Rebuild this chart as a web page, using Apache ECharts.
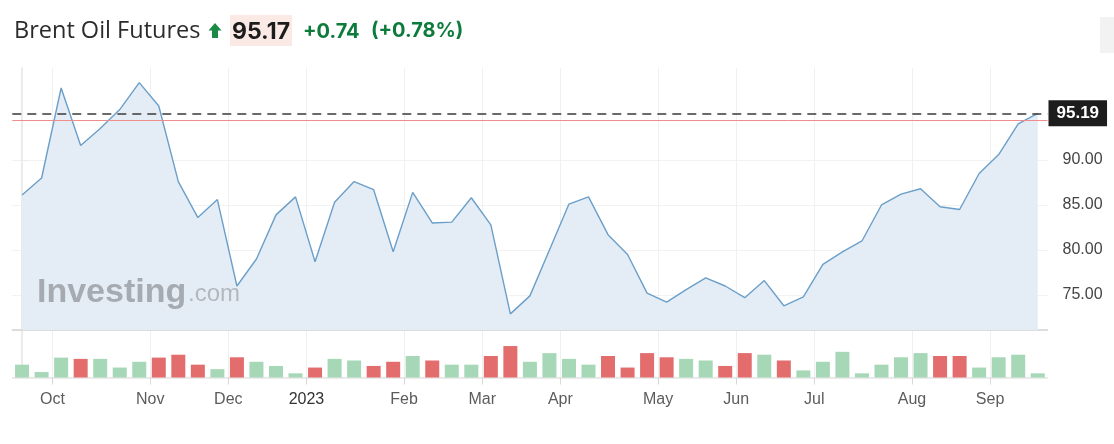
<!DOCTYPE html>
<html>
<head>
<meta charset="utf-8">
<script src="https://cdn.jsdelivr.net/npm/echarts@6/dist/echarts.min.js"></script>
<style>
html,body{margin:0;padding:0;background:#fff;}
#chart{width:1114px;height:444px;}
</style>
</head>
<body>
<div id="chart"></div>
<script>
// ---------------- DATA ----------------
// weekly bars (week starting Sunday)
const weeks = [
  '2022-09-18','2022-09-25','2022-10-02','2022-10-09','2022-10-16','2022-10-23','2022-10-30',
  '2022-11-06','2022-11-13','2022-11-20','2022-11-27','2022-12-04','2022-12-11','2022-12-18',
  '2022-12-25','2023-01-01','2023-01-08','2023-01-15','2023-01-22','2023-01-29','2023-02-05',
  '2023-02-12','2023-02-19','2023-02-26','2023-03-05','2023-03-12','2023-03-19','2023-03-26',
  '2023-04-02','2023-04-09','2023-04-16','2023-04-23','2023-04-30','2023-05-07','2023-05-14',
  '2023-05-21','2023-05-28','2023-06-04','2023-06-11','2023-06-18','2023-06-25','2023-07-02',
  '2023-07-09','2023-07-16','2023-07-23','2023-07-30','2023-08-06','2023-08-13','2023-08-20',
  '2023-08-27','2023-09-03','2023-09-10','2023-09-17'
];
const closes = [
  86.1, 88.0, 98.0, 91.6, 93.5, 95.6, 98.6,
  96.0, 87.6, 83.6, 85.6, 76.0, 79.0, 83.9,
  85.9, 78.7, 85.3, 87.6, 86.7, 79.8, 86.4,
  83.0, 83.1, 85.8, 82.8, 72.9, 74.9, 80.0,
  85.1, 85.9, 81.7, 79.5, 75.2, 74.2, 75.6,
  76.9, 76.0, 74.7, 76.6, 73.8, 74.8, 78.4,
  79.8, 81.0, 85.0, 86.2, 86.8, 84.8, 84.5,
  88.5, 90.6, 94.0, 95.19
];
const volumes = [
  40, 17, 62, 58, 58, 31, 49,
  62, 71, 40, 26, 63, 49, 36,
  13, 31, 58, 53, 36, 49, 67,
  53, 40, 40, 67, 98, 49, 76,
  58, 40, 67, 31, 76, 63, 58,
  53, 36, 76, 71, 53, 22, 49,
  80, 13, 40, 63, 76, 67, 67,
  31, 63, 71, 13
];
const monthLabels = ['Oct','Nov','Dec','2023','Feb','Mar','Apr','May','Jun','Jul','Aug','Sep'];
const priceTicks = [75, 80, 85, 90];
const instrument = 'Brent Oil Futures';
const lastPrice = 95.17;
const change = 0.74;
const changePct = 0.78;
const lastClose = 95.19;

// ---------------- DERIVED ----------------
const TICK_SHIFT = -0.44;
const monthIdx = [];
for (let i = 1; i < weeks.length; i++) {
  if (weeks[i].slice(5, 7) !== weeks[i - 1].slice(5, 7)) monthIdx.push(i);
}
const tickVals = monthIdx.map(i => i + TICK_SHIFT);
const labelFor = v => {
  const k = tickVals.findIndex(t => Math.abs(t - v) < 1e-6);
  if (k < 0) return '';
  const s = monthLabels[k];
  return /^\d{4}$/.test(s) ? '{y|' + s + '}' : s;
};
const prevClose = +(lastPrice - change).toFixed(2);
const priceData = closes.map((c, i) => [i, c]);
const up = closes.map((c, i) => i === 0 ? true : c >= closes[i - 1]);
const volData = volumes.map((v, i) => [i, v]);

const GREEN = '#a6d7b6', RED = '#e36d6d';
const AX_FONT = '"Liberation Sans", Arial, sans-serif';
const chart = echarts.init(document.getElementById('chart'), null, {renderer: 'canvas'});

const option = {
  animation: false,
  backgroundColor: '#fff',
  textStyle: {fontFamily: AX_FONT},
  grid: [
    {left: 12.3, right: 66.5, top: 68, height: 262},
    {left: 12.3, right: 66.5, top: 330, height: 47.5}
  ],
  xAxis: [
    {
      type: 'value', gridIndex: 0, min: -0.5, max: 52.5,
      axisLine: {show: true, onZero: false, lineStyle: {color: '#d2d2d2', width: 1.5}},
      axisTick: {show: false, customValues: tickVals},
      axisLabel: {show: false, customValues: tickVals},
      splitLine: {show: true, lineStyle: {color: '#f0f0f0', width: 1}}
    },
    {
      type: 'value', gridIndex: 1, min: -0.5, max: 52.5,
      axisLine: {show: true, onZero: false, lineStyle: {color: '#e4e4e4', width: 1.5}},
      axisTick: {show: true, length: 7, customValues: tickVals, lineStyle: {color: '#d8d8d8'}},
      axisLabel: {
        show: true, customValues: tickVals, formatter: labelFor,
        color: '#5c5c5c', fontSize: 16, margin: 14, fontFamily: AX_FONT,
        rich: {y: {color: '#333', fontSize: 16, fontFamily: AX_FONT}}
      },
      splitLine: {show: true, lineStyle: {color: '#f0f0f0', width: 1}}
    }
  ],
  yAxis: [
    {
      type: 'value', gridIndex: 0, position: 'right', min: 71.11, max: 100.22,
      axisLine: {show: true, lineStyle: {color: '#e4e4e4', width: 1.5}},
      axisTick: {show: true, length: 7, customValues: priceTicks, lineStyle: {color: '#ececec'}},
      axisLabel: {
        show: true, customValues: priceTicks, formatter: v => v.toFixed(2),
        color: '#444', fontSize: 16, margin: 15, fontFamily: AX_FONT
      },
      splitLine: {show: true, lineStyle: {color: '#f2f2f2', width: 1}}
    },
    {
      type: 'value', gridIndex: 1, position: 'right', min: 0, max: 148,
      axisLine: {show: true, lineStyle: {color: '#e4e4e4', width: 1.5}},
      axisTick: {show: false}, axisLabel: {show: false}, splitLine: {show: false}
    }
  ],
  series: [
    {
      type: 'line', xAxisIndex: 0, yAxisIndex: 0, data: priceData,
      symbol: 'none', smooth: false,
      lineStyle: {color: '#6b9fc9', width: 1.4},
      areaStyle: {color: '#e4edf5', opacity: 1, origin: 'start'},
      z: 3,
      markLine: {
        silent: true, symbol: 'none', animation: false,
        data: [
          {
            yAxis: prevClose,
            lineStyle: {color: '#ef8c8c', width: 1, type: 'solid'},
            label: {show: false}
          },
          {
            yAxis: lastClose,
            lineStyle: {color: '#3a3a3a', width: 1.5, type: [9, 6]},
            label: {
              show: true, position: 'end', distance: 1,
              formatter: lastClose.toFixed(2),
              backgroundColor: '#1d1d1d', color: '#fff',
              fontSize: 17, fontWeight: 'bold', lineHeight: 17,
              padding: [5, 8, 4, 8], fontFamily: AX_FONT
            }
          }
        ]
      }
    },
    {
      type: 'bar', xAxisIndex: 1, yAxisIndex: 1, data: volData,
      barWidth: 14,
      itemStyle: {color: p => up[p.dataIndex] ? GREEN : RED},
      z: 2
    }
  ],
  graphic: [
    // watermark logo (above area fill)
    {type: 'text', left: 37, top: 276, z: 5, silent: true,
     style: {text: 'Investing', fill: '#a6abb1', font: 'bold 34px "Liberation Sans", Arial, sans-serif'}},
    {type: 'text', left: 188, top: 282, z: 5, silent: true,
     style: {text: '.com', fill: '#b3b8bd', font: '24px "Liberation Sans", Arial, sans-serif'}},
    // header
    {type: 'text', left: 14, top: 19, z: 10,
     style: {text: instrument, fill: '#2b2b2b', font: '23.5px "Open Sans", "Noto Sans", sans-serif'}},
    {type: 'polygon', z: 10,
     shape: {points: [[215, 23], [221.5, 30.5], [218, 30.5], [218, 38], [212, 38], [212, 30.5], [208.5, 30.5]]},
     style: {fill: '#1b8a45'}},
    {type: 'rect', z: 9, shape: {x: 230, y: 15, width: 62, height: 31}, style: {fill: '#fbe9e6'}},
    {type: 'text', left: 232, top: 21, z: 10,
     style: {text: lastPrice.toFixed(2), fill: '#1c1c1c', font: 'bold 23px Inter, "Noto Sans", sans-serif'}},
    {type: 'text', left: 303, top: 22, z: 10,
     style: {text: '+' + change.toFixed(2), fill: '#0c7b3b', font: 'bold 20px Inter, "Noto Sans", sans-serif'}},
    {type: 'text', left: 371, top: 21, z: 10,
     style: {text: '(+' + changePct.toFixed(2) + '%)', fill: '#0c7b3b', font: 'bold 20px Inter, "Noto Sans", sans-serif'}},
    // top-right control placeholder
    {type: 'rect', z: 10, shape: {x: 1100, y: 17, width: 14, height: 36}, style: {fill: '#f2f2f2'}}
  ]
};
chart.setOption(option);
</script>
</body>
</html>
